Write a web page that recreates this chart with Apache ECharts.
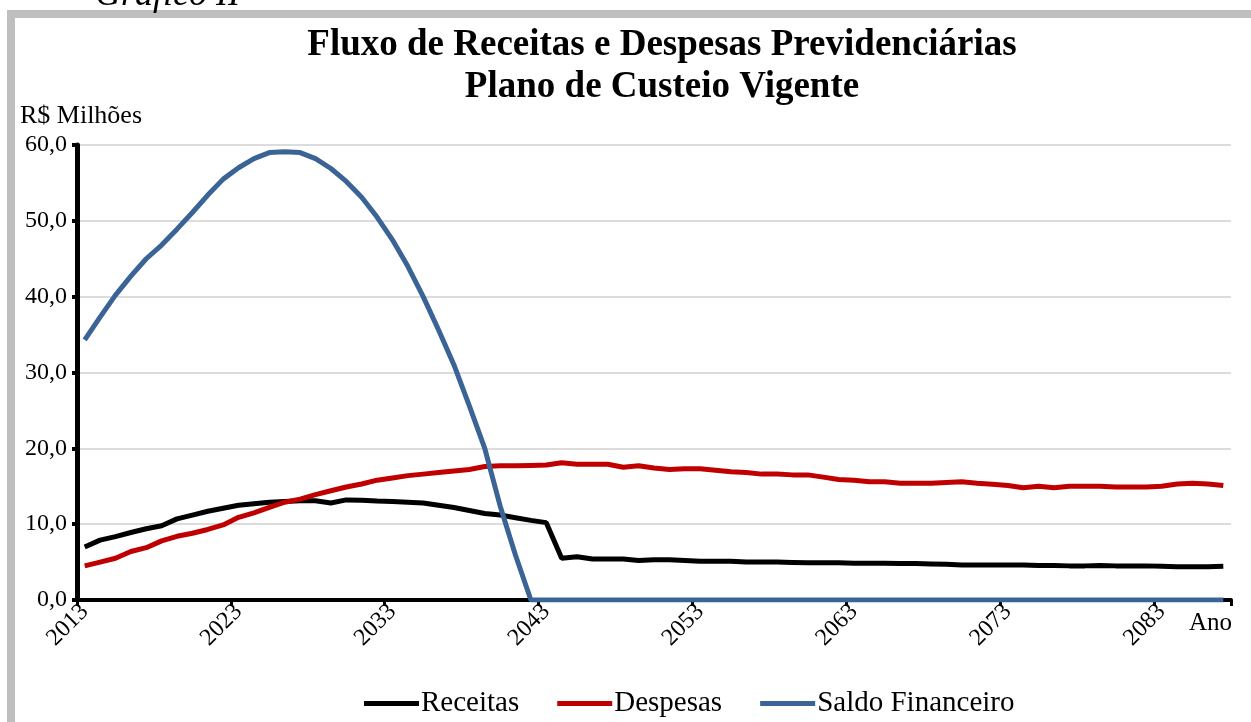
<!DOCTYPE html>
<html>
<head>
<meta charset="utf-8">
<script src="https://cdn.jsdelivr.net/npm/echarts@6/dist/echarts.min.js"></script>
<style>
html,body{margin:0;padding:0;background:#fff;}
#chart{width:1251px;height:722px;}
</style>
</head>
<body>
<div id="chart"></div>
<script>
// Categories (years)
var years = [];
for (var y = 2013; y <= 2087; y++) years.push(String(y));

var receitas = [7.0,7.9,8.35,8.9,9.4,9.8,10.7,11.2,11.7,12.1,
  12.5,12.7,12.9,13.0,13.1,13.1,12.8,13.2,13.15,13.05,
  13.0,12.9,12.8,12.5,12.2,11.8,11.4,11.2,10.85,10.5,
  10.2,5.5,5.7,5.4,5.4,5.4,5.2,5.3,5.3,5.2,
  5.1,5.1,5.1,5.0,5.0,5.0,4.95,4.9,4.9,4.9,
  4.85,4.85,4.85,4.8,4.8,4.75,4.7,4.6,4.6,4.6,
  4.6,4.6,4.55,4.55,4.5,4.5,4.55,4.5,4.5,4.5,
  4.45,4.4,4.4,4.4,4.45];

var despesas = [4.5,5.0,5.5,6.4,6.9,7.8,8.4,8.8,9.3,9.9,
  10.9,11.5,12.2,12.9,13.3,13.9,14.4,14.9,15.3,15.8,
  16.1,16.4,16.6,16.8,17.0,17.2,17.6,17.7,17.7,17.75,
  17.8,18.1,17.9,17.9,17.9,17.5,17.7,17.4,17.2,17.3,
  17.3,17.1,16.9,16.8,16.6,16.6,16.5,16.5,16.2,15.9,
  15.8,15.6,15.6,15.4,15.4,15.4,15.5,15.6,15.4,15.25,
  15.1,14.8,15.0,14.8,15.0,15.0,15.0,14.9,14.9,14.9,
  15.0,15.3,15.4,15.3,15.1];

var saldo = [34.3,37.3,40.2,42.7,45.0,46.8,48.9,51.1,53.4,55.5,
  57.0,58.2,59.0,59.1,59.0,58.2,56.9,55.2,53.1,50.5,
  47.5,44.0,40.0,35.6,31.0,25.6,20.0,12.4,5.9,0,
  0,0,0,0,0,0,0,0,0,0,
  0,0,0,0,0,0,0,0,0,0,
  0,0,0,0,0,0,0,0,0,0,
  0,0,0,0,0,0,0,0,0,0,
  0,0,0,0,0];

var seriesNames = ['Receitas','Despesas','Saldo Financeiro'];
var yTicks = {min: 0, max: 60, interval: 10};

var FONT = '"Liberation Serif","Times New Roman",serif';

var chart = echarts.init(document.getElementById('chart'), null, {renderer: 'canvas'});

chart.setOption({
  animation: false,
  backgroundColor: '#ffffff',
  title: {
    text: 'Fluxo de Receitas e Despesas Previdenciárias\nPlano de Custeio Vigente',
    left: 657, top: 19, textAlign: 'center',
    textStyle: {fontFamily: FONT, fontSize: 37, fontWeight: 'bold', color: '#000', lineHeight: 42}
  },
  graphic: [
    {type: 'rect', shape: {x: 7, y: 10, width: 1244, height: 8}, style: {fill: '#bfbfbf'}, silent: true},
    {type: 'rect', shape: {x: 7, y: 10, width: 8, height: 712}, style: {fill: '#bfbfbf'}, silent: true},
    {type: 'text', x: 95, y: 14, style: {text: 'Gráfico II', font: 'italic 36px "Liberation Serif", serif', fill: '#000', textVerticalAlign: 'bottom'}, silent: true},
    {type: 'text', x: 1189, y: 611, style: {text: 'Ano', font: '25px "Liberation Serif", serif', fill: '#000'}, silent: true}
  ],
  legend: {
    data: seriesNames,
    top: 684, left: 359,
    icon: 'rect', itemWidth: 55, itemHeight: 5, itemGap: 38,
    textStyle: {fontFamily: FONT, fontSize: 29, color: '#000', padding: [0,0,0,-3]}
  },
  grid: {left: 77, right: 20, top: 145, bottom: 122, containLabel: false},
  xAxis: {
    type: 'category', data: years, boundaryGap: true,
    axisLine: {show: true, lineStyle: {color: '#000', width: 4}},
    axisTick: {show: true, interval: 9, length: 6, lineStyle: {color: '#000', width: 3}},
    axisLabel: {interval: 9, rotate: 45, margin: 8, fontFamily: FONT, fontSize: 24, color: '#000'},
    splitLine: {show: false}
  },
  yAxis: {
    type: 'value', min: yTicks.min, max: yTicks.max, interval: yTicks.interval,
    name: 'R$ Milhões', nameLocation: 'end', nameGap: 16,
    nameTextStyle: {fontFamily: FONT, fontSize: 26, color: '#000', align: 'center', padding: [0,0,0,8]},
    axisLine: {show: true, lineStyle: {color: '#000', width: 5}},
    axisTick: {show: true, length: 5, lineStyle: {color: '#000', width: 4}},
    axisLabel: {margin: 10, fontFamily: FONT, fontSize: 24, color: '#000',
      formatter: function (v) { return v.toFixed(1).replace('.', ','); }},
    splitLine: {show: true, lineStyle: {color: '#d0d0d0', width: 1.5}}
  },
  series: [
    {name: seriesNames[0], type: 'line', data: receitas, symbol: 'none', color: '#000000', lineStyle: {width: 5, color: '#000000'}},
    {name: seriesNames[1], type: 'line', data: despesas, symbol: 'none', color: '#c00000', lineStyle: {width: 5, color: '#c00000'}},
    {name: seriesNames[2], type: 'line', data: saldo, symbol: 'none', color: '#3a6496', lineStyle: {width: 5, color: '#3a6496'}}
  ]
});
</script>
</body>
</html>
